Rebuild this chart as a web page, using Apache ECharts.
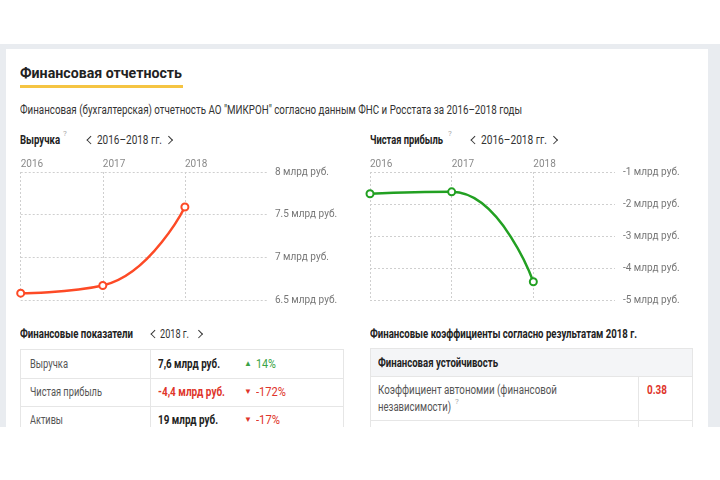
<!DOCTYPE html>
<html><head><meta charset="utf-8">
<script src="https://cdn.jsdelivr.net/npm/echarts@6/dist/echarts.min.js"></script>
<style>
html,body{margin:0;padding:0;background:#fff;width:720px;height:480px;overflow:hidden;font-family:Roboto,"Noto Sans",sans-serif;}
#clip{position:absolute;left:0;top:0;width:720px;height:427px;overflow:hidden;}
#band{position:absolute;left:0;top:44px;width:720px;height:383px;background:#e9ecf0;}
#card{position:absolute;left:6px;top:49px;width:702px;height:400px;background:#fff;}
.t{position:absolute;white-space:nowrap;line-height:16px;height:16px;color:#333;font-size:12px;}
.b{font-weight:bold;color:#222;}
.cl,.cr{position:absolute;width:4.5px;height:4.5px;border-color:#333;border-style:solid;border-width:0;transform:rotate(45deg);}
.cl{border-left-width:1.6px;border-bottom-width:1.6px;}
.cr{border-right-width:1.6px;border-top-width:1.6px;}
.q{position:absolute;font-size:8px;color:#aaa;line-height:10px;}
.ln{position:absolute;background:#e6e6e6;}
.box{position:absolute;border:1px solid #e6e6e6;box-sizing:border-box;}
#chart{position:absolute;left:0;top:0;width:720px;height:480px;}
</style></head><body>
<div id="clip">
 <div id="band"></div><div id="card"></div>

 <div class="t b" data-w="162" style="left:20px;top:65px;font-size:15px;">Финансовая отчетность</div>
 <div style="position:absolute;left:20px;top:85px;width:163px;height:3px;background:#f5c442;"></div>
 <div class="t" data-w="502" style="left:20px;top:102px;">Финансовая (бухгалтерская) отчетность АО "МИКРОН" согласно данным ФНС и Росстата за 2016–2018 годы</div>

 <div class="t b" data-w="40" style="left:20px;top:132px;">Выручка</div>
 <div class="q" style="left:63px;top:129px;">?</div>
 <div class="cl" style="left:88px;top:137px;"></div>
 <div class="t" data-w="65" style="left:97px;top:132px;font-size:12.5px;">2016–2018 гг.</div>
 <div class="cr" style="left:166px;top:137px;"></div>

 <div class="t b" data-w="73" style="left:370px;top:132px;">Чистая прибыль</div>
 <div class="q" style="left:448px;top:129px;">?</div>
 <div class="cl" style="left:472px;top:137px;"></div>
 <div class="t" data-w="66" style="left:481px;top:132px;font-size:12.5px;">2016–2018 гг.</div>
 <div class="cr" style="left:551px;top:137px;"></div>

 <div class="t b" data-w="113" style="left:20px;top:326px;">Финансовые показатели</div>
 <div class="cl" style="left:152px;top:331px;"></div>
 <div class="t" data-w="29" style="left:160px;top:326px;font-size:12.5px;">2018 г.</div>
 <div class="cr" style="left:196px;top:331px;"></div>

 <div class="t b" data-w="267" style="left:370px;top:326px;">Финансовые коэффициенты согласно результатам 2018 г.</div>

 <!-- left table -->
 <div class="box" style="left:20px;top:349px;width:324px;height:120px;"></div>
 <div class="ln" style="left:20px;top:378px;width:324px;height:1px;"></div>
 <div class="ln" style="left:20px;top:406px;width:324px;height:1px;"></div>
 <div class="ln" style="left:150px;top:349px;width:1px;height:120px;"></div>
 <div class="t" data-w="38" style="left:30px;top:356px;color:#555;">Выручка</div>
 <div class="t" data-w="72" style="left:30px;top:384px;color:#555;">Чистая прибыль</div>
 <div class="t" data-w="33" style="left:30px;top:412px;color:#555;">Активы</div>
 <div class="t b" data-w="62" style="left:158px;top:356px;">7,6 млрд руб.</div>
 <div class="t b" data-w="67" style="left:158px;top:384px;color:#e0352b;">-4,4 млрд руб.</div>
 <div class="t b" data-w="60" style="left:158px;top:412px;">19 млрд руб.</div>
 <div class="t" style="left:244px;top:356px;font-size:8px;color:#3aa346;">▲</div>
 <div class="t" data-w="20" style="left:256px;top:356px;color:#3aa346;">14%</div>
 <div class="t" style="left:244px;top:384px;font-size:8px;color:#e0352b;">▼</div>
 <div class="t" data-w="30" style="left:256px;top:384px;color:#e0352b;">-172%</div>
 <div class="t" style="left:244px;top:412px;font-size:8px;color:#e0352b;">▼</div>
 <div class="t" data-w="24" style="left:256px;top:412px;color:#e0352b;">-17%</div>

 <!-- right table -->
 <div style="position:absolute;left:370px;top:348px;width:323px;height:28px;background:#f4f5f7;"></div>
 <div class="box" style="left:370px;top:348px;width:323px;height:120px;"></div>
 <div class="ln" style="left:370px;top:376px;width:323px;height:1px;"></div>
 <div class="ln" style="left:370px;top:420px;width:323px;height:1px;"></div>
 <div class="ln" style="left:638px;top:376px;width:1px;height:100px;"></div>
 <div class="t b" data-w="120" style="left:378px;top:355px;">Финансовая устойчивость</div>
 <div class="t" data-w="179" style="left:378px;top:382px;color:#555;">Коэффициент автономии (финансовой</div>
 <div class="t" data-w="73" style="left:378px;top:399px;color:#555;">независимости)</div>
 <div class="q" style="left:455px;top:397px;">?</div>
 <div class="t b" data-w="20" style="left:647px;top:382px;color:#e0352b;">0.38</div>
</div>
<div id="chart"></div>
<script>
// squeeze texts horizontally to the measured widths of the reference
document.querySelectorAll('.t[data-w]').forEach(function(el){
  el.style.display='inline-block';
  var w=el.getBoundingClientRect().width;
  var target=parseFloat(el.getAttribute('data-w'));
  if(w>0){ el.style.transformOrigin='0 50%'; el.style.transform='scaleX('+(target/w).toFixed(4)+')'; }
});

const years = ['2016', '2017', '2018', ''];
const revenue = [6.58, 6.67, 7.59];
const profit = [-1.68, -1.62, -4.43];
const revenueMin = 6.5, revenueMax = 8, revenueStep = 0.5;
const profitMin = -5, profitMax = -1, profitStep = 1;
const unit = ' млрд руб.';

const FONT = 'Roboto';
const dotted = {show:true, lineStyle:{type:[2,2], color:'#cfcfcf', width:1}};

function xAx(gi){
  return {type:'category', gridIndex:gi, data:years, boundaryGap:false, position:'top',
    axisLine:{show:false}, axisTick:{show:false},
    axisLabel:{interval:0, align:'left', margin:3, color:'#8a8a8a', fontSize:10, fontFamily:FONT},
    splitLine:{show:true, interval:function(i, v){ return v !== ''; }, lineStyle:dotted.lineStyle}};
}
function yAx(gi, mn, mx, st){
  return {type:'value', gridIndex:gi, position:'right', min:mn, max:mx, interval:st,
    axisLine:{show:false}, axisTick:{show:false},
    axisLabel:{margin:8, color:'#777', fontSize:10, fontFamily:FONT, padding:[0,0,9,0],
      formatter:function(v){ return v + unit; }},
    splitLine:dotted};
}
function ser(gi, data, color){
  return {type:'line', xAxisIndex:gi, yAxisIndex:gi, data:data, smooth:0.5,
    symbol:'emptyCircle', symbolSize:7, color:color,
    itemStyle:{color:color, borderColor:color, borderWidth:2},
    lineStyle:{color:color, width:2.5}, animation:false};
}

const chart = echarts.init(document.getElementById('chart'), null, {renderer:'canvas'});
chart.setOption({
  animation:false,
  grid:[
    {left:20.7, right:720-267, top:172, bottom:480-300},
    {left:370, right:720-615, top:172, bottom:480-300}
  ],
  xAxis:[xAx(0), xAx(1)],
  yAxis:[yAx(0, revenueMin, revenueMax, revenueStep), yAx(1, profitMin, profitMax, profitStep)],
  series:[ser(0, revenue, '#fd4a26'), ser(1, profit, '#22a022')]
});
</script>
</body></html>
